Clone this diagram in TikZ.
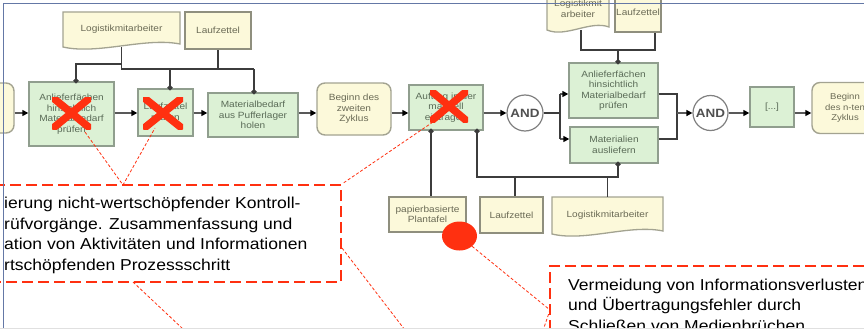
\documentclass[tikz,border=0pt]{standalone}
\usepackage{fontspec}
\setmainfont{Liberation Sans}
\newfontfamily\nodefont[FakeStretch=1.12]{Liberation Sans}
\newfontfamily\callfont[FakeStretch=1.11]{Liberation Sans}
\usetikzlibrary{arrows.meta,calc,shapes.geometric}
\definecolor{grn}{HTML}{DCF1D5}
\definecolor{grnb}{HTML}{909E8E}
\definecolor{crm}{HTML}{FCF9DA}
\definecolor{crmb}{HTML}{A3A391}
\definecolor{infob}{HTML}{8F8F7E}
\definecolor{redx}{HTML}{FF3010}
\definecolor{framec}{HTML}{6478A6}
\definecolor{ntext}{HTML}{5A6B57}
\definecolor{ctext}{HTML}{6A6A55}
\definecolor{connc}{HTML}{3C3C3C}
\tikzset{
  func/.style={draw=grnb, fill=grn, line width=1.4pt, inner sep=1pt,
    font=\nodefont\fontsize{9}{10.5}\selectfont, text=ntext, align=center},
  evt/.style={func, draw=crmb, fill=crm, rounded corners=8pt, text=ctext},
  info/.style={draw=infob, fill=crm, line width=2.6pt, inner sep=1pt,
    font=\nodefont\fontsize{9}{10.5}\selectfont, text=ctext, align=center},
  docnode/.style={inner sep=1pt, font=\nodefont\fontsize{9}{10.5}\selectfont,
    text=ctext, align=center},
  docshape/.style={draw=crmb, fill=crm, line width=1.3pt},
  andop/.style={circle, draw=gray, fill=white, line width=1.2pt, inner sep=0pt,
    font=\nodefont\bfseries\fontsize{12}{12}\selectfont, text=connc!90},
  flow/.style={draw=connc!85, line width=1.6pt,
    -{Triangle[length=6pt,width=6pt,color=black]}},
  link/.style={draw=connc, line width=1.6pt},
  dotend/.style={link, -{Circle[length=5pt]}},
  dotstart/.style={link, {Circle[length=5pt]}-},
  dotboth/.style={link, {Circle[length=5pt]}-{Circle[length=5pt]}},
  xmark/.style={inner sep=0pt, path picture={
    \draw[redx, line width=7.5pt]
      (path picture bounding box.north west) -- (path picture bounding box.south east)
      (path picture bounding box.south west) -- (path picture bounding box.north east);}},
  callout/.style={draw=redx, line width=2.3pt, dash pattern=on 11pt off 5pt},
  lead/.style={draw=redx, line width=0.8pt, dash pattern=on 3pt off 2pt},
  calltext/.style={inner sep=0pt, align=left, text=black,
    font=\callfont\fontsize{15.8}{20.4}\selectfont},
}
\newcommand\docbox[6]{%
  \path[docshape] (#2-#4/2,#3-#5/2) -- (#2+#4/2,#3-#5/2) -- (#2+#4/2,#3+#5/2-3)
    .. controls (#2+#4/5,#3+#5/2-10) and (#2-#4/5,#3+#5/2+8) .. (#2-#4/2,#3+#5/2) -- cycle;
  \node[docnode, minimum width=#4pt, minimum height=#5pt] (#1) at (#2,#3) {#6};}
\begin{document}
\begin{tikzpicture}[x=1pt,y=-1pt]
\useasboundingbox (0,0) rectangle (864,329);
\clip (0,0) rectangle (864,329);
\fill[white] (0,0) rectangle (864,329);

% ---------- main row ----------
\node[evt, minimum width=64pt, minimum height=50pt] (ev0) at (-18,108) {};
\node[func, minimum width=85pt, minimum height=64pt] (A) at (71.5,114)
  {Anlieferfächen\\hinsichtlich\\Materialbedarf\\prüfen};
\node[func, minimum width=55pt, minimum height=47pt] (B) at (165.5,112.5)
  {Laufzettel\\prüfen};
\node[func, minimum width=90pt, minimum height=44pt] (C) at (253,115)
  {Materialbedarf\\aus Pufferlager\\holen};
\node[evt, minimum width=74pt, minimum height=52pt] (D) at (354,109)
  {Beginn des\\zweiten\\Zyklus};
\node[func, minimum width=74pt, minimum height=45pt] (E) at (446,107.5)
  {Auftrag in der\\manuell\\eintragen};
\node[andop, minimum size=36pt] (AND1) at (525,113) {AND};
\node[func, minimum width=89pt, minimum height=55pt] (F) at (613.5,90.5)
  {Anlieferfächen\\hinsichtlich\\Materialbedarf\\prüfen};
\node[func, minimum width=88pt, minimum height=36pt] (G) at (614,145)
  {Materialien\\ausliefern};
\node[andop, minimum size=35pt] (AND2) at (710.5,113) {AND};
\node[func, minimum width=44pt, minimum height=40pt] (H) at (772,107) {[...]};
\node[evt, minimum width=66pt, minimum height=51pt, font=\nodefont\fontsize{8.5}{10.5}\selectfont] (I) at (845,108)
  {Beginn\\des n-ten\\Zyklus};

% ---------- information objects ----------
\docbox{T1}{121.5}{29.5}{117}{35}{Logistikmitarbeiter}
\node[info, minimum width=66pt, minimum height=37pt] (T2) at (218,30.5) {Laufzettel};
\docbox{TR1}{578}{9}{62}{42}{Logistikmit\\arbeiter}
\node[info, minimum width=38pt, minimum height=40pt] (TR2) at (638,12) {Laufzettel};
\node[info, minimum width=77pt, minimum height=35pt] (P) at (427.5,214.5)
  {papierbasierte\\Plantafel};
\node[info, minimum width=63pt, minimum height=36pt] (L3) at (511.5,215) {Laufzettel};
\docbox{DB}{607.5}{215.5}{111}{37}{Logistikmitarbeiter}

% ---------- flow connectors ----------
\coordinate (row) at (0,113);
\draw[flow] (ev0.east |- row) -- (A.west |- row);
\draw[flow] (A.east |- row) -- (B.west |- row);
\draw[flow] (B.east |- row) -- (C.west |- row);
\draw[flow] (C.east |- row) -- (D.west |- row);
\draw[flow] (D.east |- row) -- (E.west |- row);
\draw[flow] (E.east |- row) -- (AND1.west);
\coordinate (split) at (560,113);
\coordinate (fy) at (0,94);
\coordinate (gy) at (0,139);
\draw[link] (AND1.east) -- (split);
\draw[flow] (split |- fy) -- (F.west |- fy);
\draw[flow] (split |- gy) -- (G.west |- gy);
\draw[link] (split |- fy) -- (split |- gy);
\coordinate (merge) at (677,113);
\draw[link] (F.east |- fy) -| (merge);
\draw[link] (G.east |- gy) -| (merge);
\draw[flow] (merge) -- (AND2.west);
\draw[flow] (AND2.east) -- (H.west |- row);
\draw[flow] (H.east |- row) -- (I.west |- row);

% ---------- information links top left ----------
\coordinate (jA) at (0,64);
\coordinate (jB) at (0,69);
\draw[link] (T1.south) -- (T1.south |- jB) -- ([xshift=1pt]C.north |- jB);
\draw[dotend] ([xshift=1pt]C.north |- jB) -- ([xshift=1pt,yshift=-2pt]C.north);
\draw[dotend] ([xshift=4.5pt]B.north |- jB) -- ([xshift=4.5pt,yshift=-2pt]B.north);
\draw[link] (T2.south) -- (T2.south |- jB);
\draw[dotend] (T1.south |- jA) -| ([xshift=4.5pt,yshift=-2pt]A.north);

% ---------- information links top right ----------
\coordinate (jR) at (0,50);
\draw[link] ([xshift=3pt]TR1.south) |- ([xshift=17pt]TR2.south |- jR) -- ([xshift=17pt]TR2.south);
\draw[dotend] ([xshift=4.5pt]F.north |- jR) -- ([xshift=4.5pt,yshift=-2pt]F.north);

% ---------- information links bottom ----------
\coordinate (jb) at (0,177);
\draw[dotstart] ([xshift=-15pt,yshift=2pt]E.south) -- ([xshift=-15pt]E.south |- P.north);
\draw[dotboth] ([xshift=31pt,yshift=2pt]E.south) |- ([xshift=4pt]G.south |- jb)
  -- ([xshift=4pt,yshift=2pt]G.south);
\draw[link] ([xshift=3.5pt]L3.north) -- ([xshift=3.5pt]L3.north |- jb);
\draw[link] (DB.north) -- (DB.north |- jb);

% ---------- red marks ----------
\node[xmark, minimum width=39pt, minimum height=32pt] (x1) at (71.5,113) {};
\node[xmark, minimum width=40pt, minimum height=32pt] (x2) at (163,113) {};
\node[xmark, minimum width=38pt, minimum height=32pt] (x3) at (449,106) {};
\node[ellipse, fill=redx, minimum width=35pt, minimum height=29pt, inner sep=0pt] (RD) at (459.5,236) {};

% ---------- callouts ----------
\node[callout, minimum width=351pt, minimum height=97pt] (c1) at (165.5,233.5) {};
\node[calltext, anchor=base west] (c1t) at (4,270)
  {ierung nicht-wertschöpfender Kontroll-\\rüfvorgänge. Zusammenfassung und\\ation von Aktivitäten und Informationen\\rtschöpfenden Prozessschritt};
\node[callout, minimum width=350pt, minimum height=94pt] (c2) at (725,313) {};
\node[calltext, anchor=base west] (c2t) at (568,331)
  {Vermeidung von Informationsverlusten\\und Übertragungsfehler durch\\Schließen von Medienbrüchen};

% ---------- leader lines ----------
\coordinate (l1a) at (85,132);
\coordinate (l1b) at (155,128);
\coordinate (m1) at (123,185);
\coordinate (l3a) at (433,122);
\coordinate (k1) at (133,282);
\coordinate (k1e) at (200,345);
\coordinate (k3) at (342,248);
\coordinate (k3e) at (418,347);
\coordinate (k2) at (550,310);
\coordinate (k2e) at (538,345);
\draw[lead] (l1a) -- (m1) -- (l1b);
\draw[lead] (l3a) -- (c1.north east);
\draw[lead] (k1) -- (k1e);
\draw[lead] (k3) -- (k3e);
\draw[lead] (RD) -- (k2) -- (k2e);

% ---------- frame ----------
\draw[framec, line width=1.5pt] (3.5,335) -- (3.5,3.5) -- (870,3.5);
\draw[black!12, line width=1.2pt] (0,328.5) -- (864,328.5);
\end{tikzpicture}
\end{document}
